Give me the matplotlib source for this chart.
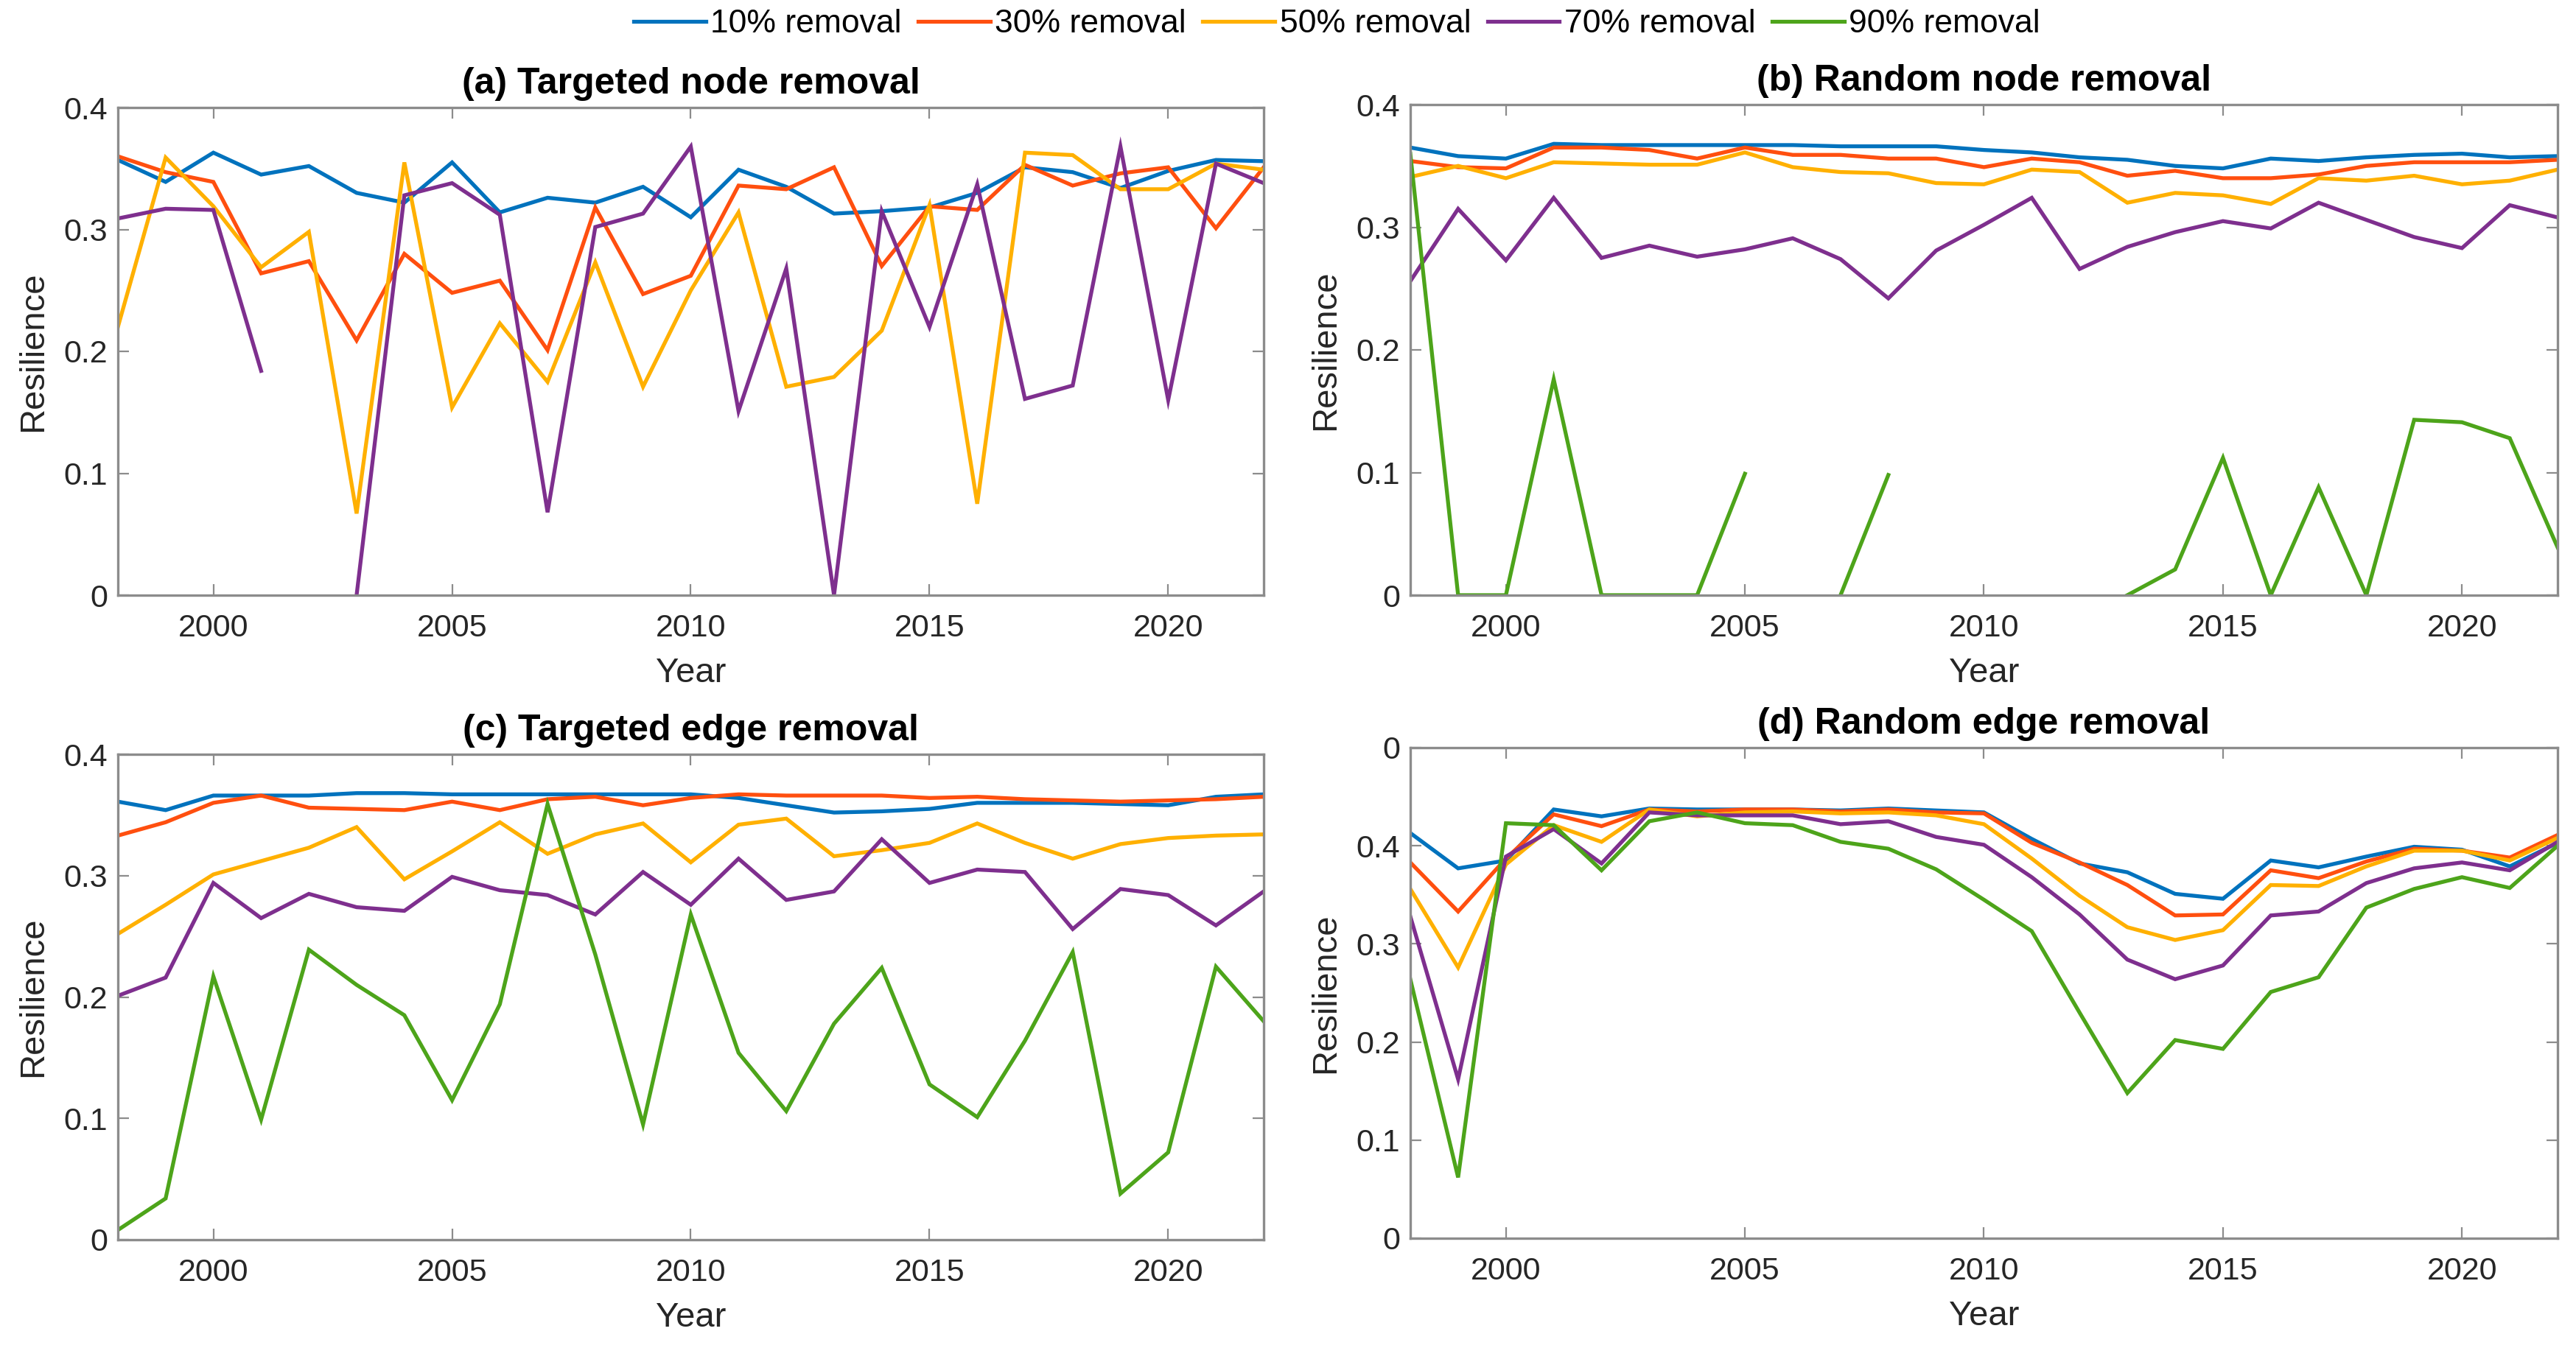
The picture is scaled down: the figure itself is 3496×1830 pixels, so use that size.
import numpy as np
import matplotlib
matplotlib.use("Agg")
import matplotlib.pyplot as plt

nan = np.nan
years = list(range(1998, 2023))
series_labels = ["10% removal", "30% removal", "50% removal", "70% removal", "90% removal"]
colors = ["#0072BD", "#FF4F0F", "#FFB000", "#7E2F8E", "#4DA41A"]

# (a) Targeted node removal
a10 = [0.357, 0.339, 0.363, 0.345, 0.352, 0.330, 0.322, 0.355, 0.314, 0.326, 0.322, 0.335, 0.310,
       0.349, 0.335, 0.313, 0.315, 0.318, 0.330, 0.351, 0.347, 0.334, 0.348, 0.357, 0.356]
a30 = [0.360, 0.347, 0.339, 0.264, 0.274, 0.209, 0.280, 0.248, 0.258, 0.201, 0.318, 0.247, 0.262,
       0.336, 0.333, 0.351, 0.270, 0.319, 0.316, 0.353, 0.336, 0.346, 0.351, 0.301, 0.351]
a50 = [0.220, 0.359, 0.319, 0.269, 0.298, 0.067, 0.355, 0.154, 0.223, 0.175, 0.273, 0.171, 0.250,
       0.314, 0.171, 0.179, 0.217, 0.320, 0.075, 0.363, 0.361, 0.333, 0.333, 0.354, 0.349]
a70 = [0.309, 0.317, 0.316, 0.184, nan, 0.0, 0.328, 0.338, 0.312, 0.068, 0.302, 0.313, 0.368,
       0.151, 0.268, 0.0, 0.315, 0.220, 0.337, 0.161, 0.172, 0.368, 0.160, 0.354, 0.338]
a90 = [nan] * 25

# (b) Random node removal
b10 = [0.365, 0.358, 0.356, 0.368, 0.367, 0.367, 0.367, 0.367, 0.367, 0.366, 0.366, 0.366, 0.363,
       0.361, 0.357, 0.355, 0.350, 0.348, 0.356, 0.354, 0.357, 0.359, 0.360, 0.357, 0.358]
b30 = [0.354, 0.349, 0.348, 0.365, 0.365, 0.363, 0.356, 0.365, 0.359, 0.359, 0.356, 0.356, 0.349,
       0.356, 0.353, 0.342, 0.346, 0.340, 0.340, 0.343, 0.350, 0.353, 0.353, 0.353, 0.355]
b50 = [0.341, 0.350, 0.340, 0.353, 0.352, 0.351, 0.351, 0.361, 0.349, 0.345, 0.344, 0.336, 0.335,
       0.347, 0.345, 0.320, 0.328, 0.326, 0.319, 0.340, 0.338, 0.342, 0.335, 0.338, 0.347]
b70 = [0.256, 0.315, 0.273, 0.324, 0.275, 0.285, 0.276, 0.282, 0.291, 0.274, 0.242, 0.281, 0.302,
       0.324, 0.266, 0.284, 0.296, 0.305, 0.299, 0.320, 0.306, 0.292, 0.283, 0.318, 0.308]
b90 = [0.360, 0.0, 0.0, 0.176, 0.0, 0.0, 0.0, 0.099, nan, 0.0, 0.098, nan, nan,
       nan, nan, 0.0, 0.021, 0.112, 0.0, 0.088, 0.0, 0.143, 0.141, 0.128, 0.039]

# (c) Targeted edge removal
c10 = [0.361, 0.354, 0.366, 0.366, 0.366, 0.368, 0.368, 0.367, 0.367, 0.367, 0.367, 0.367, 0.367,
       0.364, 0.358, 0.352, 0.353, 0.355, 0.360, 0.360, 0.360, 0.359, 0.358, 0.365, 0.367]
c30 = [0.333, 0.344, 0.360, 0.366, 0.356, 0.355, 0.354, 0.361, 0.354, 0.363, 0.365, 0.358, 0.364,
       0.367, 0.366, 0.366, 0.366, 0.364, 0.365, 0.363, 0.362, 0.361, 0.362, 0.363, 0.365]
c50 = [0.252, 0.276, 0.301, 0.312, 0.323, 0.340, 0.297, 0.320, 0.344, 0.318, 0.334, 0.343, 0.311,
       0.342, 0.347, 0.316, 0.321, 0.327, 0.343, 0.327, 0.314, 0.326, 0.331, 0.333, 0.334]
c70 = [0.201, 0.216, 0.294, 0.265, 0.285, 0.274, 0.271, 0.299, 0.288, 0.284, 0.268, 0.303, 0.276,
       0.314, 0.280, 0.287, 0.330, 0.294, 0.305, 0.303, 0.256, 0.289, 0.284, 0.259, 0.287]
c90 = [0.008, 0.034, 0.217, 0.099, 0.239, 0.210, 0.185, 0.115, 0.194, 0.359, 0.235, 0.095, 0.268,
       0.154, 0.106, 0.178, 0.224, 0.128, 0.101, 0.164, 0.237, 0.038, 0.072, 0.225, 0.180]

# (d) Random edge removal
d10 = [0.413, 0.377, 0.385, 0.437, 0.430, 0.438, 0.437, 0.437, 0.437, 0.436, 0.438, 0.436, 0.434,
       0.407, 0.382, 0.373, 0.351, 0.346, 0.385, 0.378, 0.389, 0.399, 0.396, 0.379, 0.403]
d30 = [0.383, 0.333, 0.387, 0.432, 0.420, 0.437, 0.435, 0.437, 0.437, 0.435, 0.437, 0.434, 0.433,
       0.403, 0.383, 0.360, 0.329, 0.330, 0.375, 0.367, 0.384, 0.397, 0.395, 0.388, 0.411]
d50 = [0.356, 0.276, 0.381, 0.421, 0.404, 0.437, 0.430, 0.434, 0.435, 0.433, 0.434, 0.431, 0.422,
       0.387, 0.349, 0.317, 0.304, 0.314, 0.360, 0.359, 0.379, 0.395, 0.395, 0.385, 0.408]
d70 = [0.328, 0.162, 0.389, 0.417, 0.382, 0.434, 0.431, 0.431, 0.431, 0.422, 0.425, 0.409, 0.401,
       0.368, 0.330, 0.284, 0.264, 0.278, 0.329, 0.333, 0.362, 0.377, 0.383, 0.375, 0.404]
d90 = [0.264, 0.062, 0.423, 0.421, 0.375, 0.425, 0.434, 0.423, 0.421, 0.404, 0.397, 0.376, 0.345,
       0.313, 0.230, 0.148, 0.202, 0.193, 0.251, 0.266, 0.337, 0.356, 0.368, 0.357, 0.400]

titles = ["(a) Targeted node removal", "(b) Random node removal",
          "(c) Targeted edge removal", "(d) Random edge removal"]
panel_data = [[a10, a30, a50, a70, a90], [b10, b30, b50, b70, b90],
              [c10, c30, c50, c70, c90], [d10, d30, d50, d70, d90]]
xticks = [2000, 2005, 2010, 2015, 2020]
yticks_std = [0, 0.1, 0.2, 0.3, 0.4]
yticklabels_std = ["0", "0.1", "0.2", "0.3", "0.4"]
yticks_d = [0, 0.1, 0.2, 0.3, 0.4, 0.5]
yticklabels_d = ["0", "0.1", "0.2", "0.3", "0.4", "0"]

plt.rcParams['font.family'] = ['Liberation Sans', 'DejaVu Sans']

W, H = 3496, 1830
dpi = 200
fig = plt.figure(figsize=(W / dpi, H / dpi), dpi=dpi)

rects_px = [(160, 146, 1715, 808), (1914, 142, 3471, 808),
            (160, 1024, 1715, 1683), (1914, 1015, 3471, 1681)]

spine_col = "#8c8c8c"
text_col = "#262626"
handles = None
for i, (l, t, r, b) in enumerate(rects_px):
    ax = fig.add_axes([l / W, 1 - b / H, (r - l) / W, (b - t) / H])
    lines = []
    for vals, col, lab in zip(panel_data[i], colors, series_labels):
        ln, = ax.plot(years, vals, color=col, lw=1.9, label=lab, solid_joinstyle='miter')
        lines.append(ln)
    if i == 0:
        handles = lines
    ax.set_xlim(1998, 2022)
    if i == 3:
        ax.set_ylim(0, 0.5)
        ax.set_yticks(yticks_d)
        ax.set_yticklabels(yticklabels_d)
    else:
        ax.set_ylim(0, 0.4)
        ax.set_yticks(yticks_std)
        ax.set_yticklabels(yticklabels_std)
    ax.set_xticks(xticks)
    ax.set_xticklabels([str(x) for x in xticks])
    ax.tick_params(direction='in', length=5.5, width=0.8, color=spine_col,
                   labelsize=15.5, labelcolor=text_col, top=True, right=True)
    ax.tick_params(axis='x', pad=9)
    ax.tick_params(axis='y', pad=5)
    for s in ax.spines.values():
        s.set_color(spine_col)
        s.set_linewidth(1.2)
    ax.set_xlabel("Year", fontsize=17, color=text_col, labelpad=7)
    ax.set_ylabel("Resilience", fontsize=17, color=text_col, labelpad=7)
    ax.set_title(titles[i], fontsize=18, fontweight='bold', color='black', pad=7)

fig.legend(handles, series_labels, loc='center', bbox_to_anchor=(0.519, 0.982), ncol=5,
           frameon=False, fontsize=16, handlelength=2.2, handletextpad=0.15,
           columnspacing=0.5, borderaxespad=0)

fig.savefig("out.png", dpi=dpi)
